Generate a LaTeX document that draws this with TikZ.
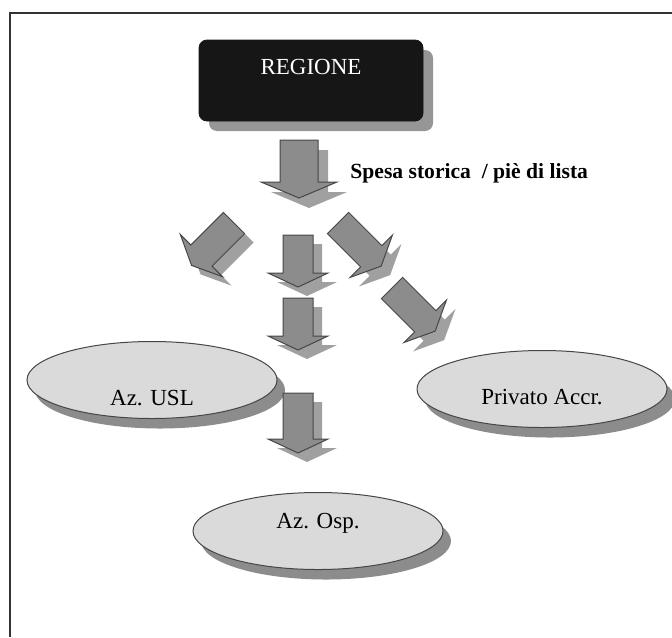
\documentclass[tikz,border=0pt]{standalone}
\usepackage{fontspec}
\setmainfont{Liberation Serif}
\usetikzlibrary{shapes,shadows}
\definecolor{boxblack}{RGB}{22,22,22}
\definecolor{boxshade}{RGB}{150,150,150}
\definecolor{arrowgrey}{RGB}{140,140,140}
\definecolor{arrowshade}{RGB}{160,160,160}
\definecolor{ovalgrey}{RGB}{218,218,218}
\definecolor{ovalshade}{RGB}{140,140,140}
\definecolor{edgegrey}{RGB}{70,70,70}
\tikzset{
  arrow len/.store in=\arrlen, arrow len=52,
  body half/.store in=\bodyhalf, body half=15,
  head half/.store in=\headhalf, head half=30,
  head len/.store in=\headlen, head len=14,
  flowarrow/.pic={
    \path[pic actions] (0,-\bodyhalf) -- ({\arrlen-\headlen},-\bodyhalf) -- ({\arrlen-\headlen},-\headhalf) -- (\arrlen,0) -- ({\arrlen-\headlen},\headhalf) -- ({\arrlen-\headlen},\bodyhalf) -- (0,\bodyhalf) -- cycle;
  },
  arrowshape/.style={draw=edgegrey, fill=arrowgrey, line width=0.5pt},
  arrowshadow/.style={fill=arrowshade},
  bigarrow/.style={arrow len=58, body half=19, head half=38, head len=16},
  oval/.style={ellipse, draw=edgegrey, fill=ovalgrey, line width=0.5pt, minimum width=125pt, minimum height=38.5pt, font=\fontsize{11.5}{13}\selectfont, drop shadow={shadow xshift=4pt, shadow yshift=-5pt, fill=ovalshade, opacity=1}}
}

\begin{document}
\begin{tikzpicture}[x=0.5pt, y=-0.5pt]
  \useasboundingbox (0,0) rectangle (672,637);
  % frame
  \draw[line width=1.2pt, black!80] (10,637) -- (10,13) -- (672,13);

  \node[draw=boxblack, fill=boxblack, rounded corners=4pt, minimum width=112pt, minimum height=40.5pt, text=white, font=\fontsize{11.5}{13}\selectfont, drop shadow={shadow xshift=5pt, shadow yshift=-5pt, fill=boxshade, opacity=1}] (regione) at (311,80.5) {\raisebox{7pt}[\height][\depth]{REGIONE}};

  % receivers
  \node[oval] (usl) at (152,380) {\raisebox{-9pt}[\height][\depth]{Az. USL}};
  \node[oval] (privato) at (542,389) {\raisebox{-4pt}[\height][\depth]{Privato Accr.}};
  \node[oval] (osp) at (318,531) {\raisebox{4pt}[\height][\depth]{Az. Osp.}};

  % block arrows
  \pic[arrowshadow, bigarrow, rotate=-90] at (309,150) {flowarrow};
  \pic[arrowshape, bigarrow, rotate=-90] at (299,140) {flowarrow};
  \foreach \px/\py/\ang/\len in {234/223/-135/60, 298/235/-90/52, 298/298/-90/52, 298/393/-90/60, 338/223/-45/61, 392/288/-45/61}{
    \pic[arrowshadow, rotate=\ang, arrow len=\len] at ({\px+9},{\py+9}) {flowarrow};
    \pic[arrowshape, rotate=\ang, arrow len=\len] at (\px,\py) {flowarrow};
  }

  \node[font=\bfseries\fontsize{10.8}{13}\selectfont, anchor=west, inner sep=0pt] (spesa) at (350,173) {Spesa storica\ \ / piè di lista};
\end{tikzpicture}
\end{document}
